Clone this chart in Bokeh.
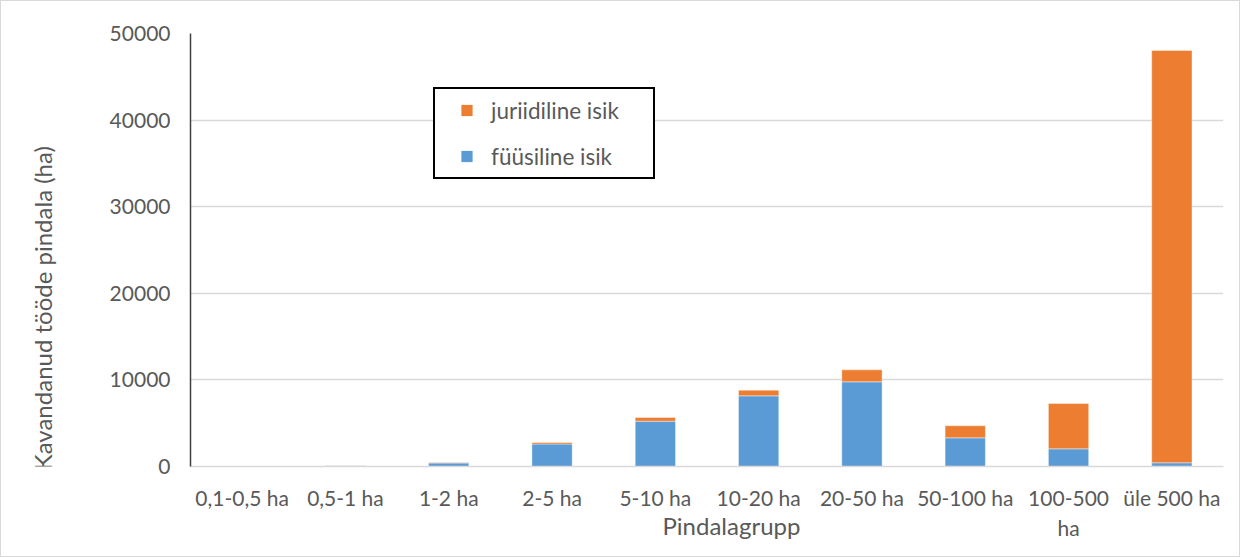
import math
from bokeh.plotting import figure
from bokeh.layouts import row
from bokeh.models import (Legend, LegendItem, Label, Title, FactorRange, Range1d,
                          FixedTicker, NumeralTickFormatter, ColumnDataSource)
from bokeh.embed import file_html
from bokeh.resources import INLINE

# ---- data ----
categories = ["0,1-0,5 ha", "0,5-1 ha", "1-2 ha", "2-5 ha", "5-10 ha",
              "10-20 ha", "20-50 ha", "50-100 ha", "100-500\nha", "üle 500 ha"]
fuusiline = [20, 80, 400, 2600, 5230, 8160, 9780, 3310, 2040, 430]
juriidiline = [5, 40, 60, 170, 430, 650, 1380, 1390, 5230, 47610]
series_names = ["füüsiline isik", "juriidiline isik"]
series_colors = ["#5b9bd5", "#ed7d31"]
y_ticks = [0, 10000, 20000, 30000, 40000, 50000]
x_title = "Pindalagrupp"
y_title = "Kavandanud tööde pindala (ha)"

FONT = "Lato"
TXT = "#595959"
TICK_SIZE = "21px"
TITLE_SIZE = "24px"

source = ColumnDataSource(data={
    "cat": categories,
    "füüsiline isik": fuusiline,
    "juriidiline isik": juriidiline,
})

# ---- narrow strip holding the vertical axis title ----
LEFT_W = 80
H = 555
tf = figure(width=LEFT_W, height=H, x_range=Range1d(0, LEFT_W), y_range=Range1d(0, H),
            output_backend="svg", toolbar_location=None,
            x_axis_location=None, y_axis_location=None, min_border=0)
tf.grid.visible = False
tf.outline_line_color = None
tf.add_layout(Label(x=41, y=203, angle=math.pi / 2, text=y_title,
                    text_align="center", text_baseline="middle", text_font=FONT,
                    text_font_size=TITLE_SIZE, text_color=TXT))

# ---- main chart ----
p = figure(width=1238 - LEFT_W, height=H,
           x_range=FactorRange(*categories), y_range=Range1d(0, 50000),
           output_backend="svg", toolbar_location=None,
           min_border_left=189 - LEFT_W, min_border_right=16,
           min_border_top=32, min_border_bottom=90)

p.vbar_stack(series_names, x="cat", width=0.39, color=series_colors,
             line_color="white", line_alpha=0.5, line_width=0.8,
             source=source)

# legend glyphs: zero-size square markers (only the legend shows them)
r_j = p.scatter(x="cat", y="juriidiline isik", source=source, size=0,
                marker="square", fill_color=series_colors[1], line_color=None)
r_f = p.scatter(x="cat", y="füüsiline isik", source=source, size=0,
                marker="square", fill_color=series_colors[0], line_color=None)
legend = Legend(items=[LegendItem(label="juriidiline isik", renderers=[r_j]),
                       LegendItem(label="füüsiline isik", renderers=[r_f])],
                location=(243, 287), padding=7, spacing=18, margin=0,
                glyph_width=49, glyph_height=28, label_standoff=0,
                label_width=155, label_height=28,
                border_line_color="black", border_line_width=2,
                border_line_alpha=1,
                background_fill_color="white", background_fill_alpha=1,
                label_text_font=FONT, label_text_font_size="22.5px",
                label_text_color=TXT)
p.add_layout(legend)

# axes
p.xgrid.visible = False
p.ygrid.grid_line_color = "#d9d9d9"
p.ygrid.grid_line_width = 1.5
p.outline_line_color = None

p.yaxis.ticker = FixedTicker(ticks=y_ticks)
p.yaxis.formatter = NumeralTickFormatter(format="0")
p.yaxis.major_tick_line_color = None
p.yaxis.minor_tick_line_color = None
p.yaxis.axis_line_color = "#404040"
p.yaxis.axis_line_width = 1.5
p.yaxis.major_label_standoff = 14

p.xaxis.major_tick_line_color = None
p.xaxis.minor_tick_line_color = None
p.xaxis.axis_line_color = "#d9d9d9"
p.xaxis.axis_line_width = 1.5
p.xaxis.major_label_standoff = 12

for ax in (p.xaxis, p.yaxis):
    ax.major_label_text_font = FONT
    ax.major_label_text_font_size = TICK_SIZE
    ax.major_label_text_color = TXT

# x axis title
p.add_layout(Title(text=x_title, align="left", offset=472, standoff=-64,
                   vertical_align="top", text_font=FONT,
                   text_font_size=TITLE_SIZE, text_font_style="normal",
                   text_color=TXT), "below")

layout = row(tf, p, spacing=0, styles={"border": "1px solid #d9d9d9"})
open("out.html", "w").write(file_html(layout, INLINE))
